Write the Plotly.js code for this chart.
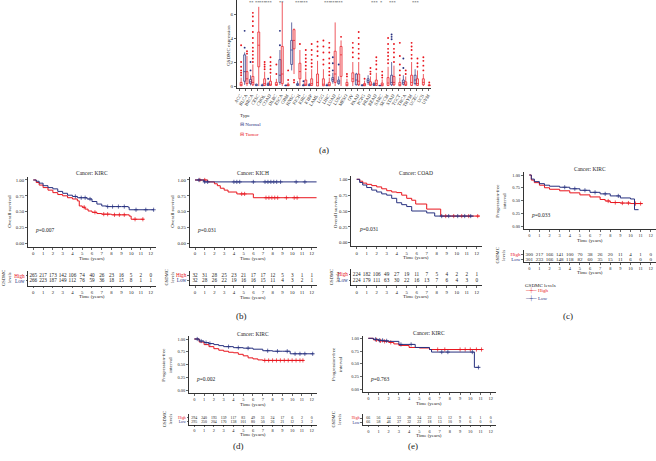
<!DOCTYPE html>
<html><head><meta charset="utf-8">
<script src="https://cdn.plot.ly/plotly-3.0.1.min.js"></script>
<style>html,body{margin:0;padding:0;background:#fff}#chart{width:656px;height:461px}</style>
</head><body><div id="chart"></div>
<script>
// ---------------- Panel (a) data ----------------
const CANCERS = ['ACC','BLCA','BRCA','CESC','CHOL','COAD','DLBC','ESCA','GBM','HNSC','KICH','KIRC','KIRP','LAML','LGG','LIHC','LUAD','LUSC','MESO','OV','PAAD','PCPG','PRAD','READ','SARC','SKCM','STAD','TGCT','THCA','THYM','UCEC','UCS','UVM'];
const TUMOR_Q1  = [0.02,0.2,0.1,1.6,0.05,0.05,0.05,0.2,0.02,3.1,0.6,0.05,0.05,0,0.02,0.02,0.3,0.8,0.02,0.36,0.1,0.02,0.05,0.05,0.02,0.05,0.1,0.02,0.05,0.05,0.05,0.1,0.02];
const TUMOR_MED = [0.08,0.6,0.3,3.4,0.2,0.15,0.1,1.0,0.05,3.8,1.2,0.15,0.2,0.3,0.15,0.1,1.0,2.6,0.1,0.6,0.4,0.08,0.15,0.2,0.08,0.25,0.3,0.1,0.15,0.3,0.2,0.3,0.05];
const TUMOR_Q3  = [0.3,1.2,0.8,4.5,0.6,0.4,0.3,3.3,0.15,4.7,1.9,0.5,0.6,1.0,0.6,0.3,2.9,3.3,0.3,1.1,1.0,0.2,0.35,0.5,0.25,0.7,0.8,0.3,0.35,0.9,0.6,0.6,0.1];
const TUMOR_LOW = [0,0,0,0,0,0,0,0,0,1.0,0,0,0,0,0,0,0,0,0,0,0,0,0,0,0,0,0,0,0,0,0,0,0];
const TUMOR_UP  = [0.7,2.5,1.8,6.6,1.2,0.9,0.6,7.0,0.3,4.8,3.0,1.2,1.4,2.1,1.4,0.7,5.3,3.8,0.6,2.0,2.0,0.45,0.8,1.1,0.55,1.6,1.7,0.7,0.8,2.0,1.3,1.0,0.2];
const TUMOR_OUT = [[0.9,1.1,1.3,1.6,2.0,3.4],[2.7,2.9],[2.0,2.3,2.6,2.9,3.2,3.6,4.0,4.5,5.0,5.4,5.8,6.1],[],[1.4,1.6,1.8,2.0],[1.1,1.4,1.7,2.0,2.4],[1.0,1.8],[],[0.5,1.3],[0.3,0.5],[3.5],[1.4,1.7,2.0,2.3,2.6,3.0],[1.6,1.9,2.2,2.6,3.0,3.5],[2.5,2.9,3.3,3.7],[1.8,2.2,2.8,3.3,3.8],[0.9,1.2,1.5,1.9,2.3,2.8,3.2,3.6],[],[4.1],[0.8,1.0],[2.4,2.8,3.2,3.6],[2.3,2.7,3.1,3.5,4.0,4.5],[0.6],[1.0,1.2,1.5],[1.4,1.8,2.1,2.4],[0.7,0.9,1.2],[1.9,2.2,2.5,2.8,3.1,3.5,4.0],[2.0,2.4,2.8,3.1,3.5],[0.9,1.3,1.8,2.5,3.6],[1.0,1.3],[2.3,2.6,3.0,3.3,3.6],[1.6,1.9,2.3],[1.3,1.7,2.1,2.4],[0.3]];
const NORMAL_Q1  = [null,0.4,0.2,0.03,0.02,0.05,null,0.3,0.02,1.8,0.05,0.02,0.03,null,null,0.02,0.4,0.2,null,null,0.1,0.02,0.3,0.05,0.02,null,0.1,null,0.15,null,0.2,null,null];
const NORMAL_MED = [null,1.2,0.35,0.08,0.05,0.1,null,0.9,0.04,3.0,0.1,0.05,0.06,null,null,0.05,0.55,0.35,null,null,0.5,0.05,0.45,0.1,0.04,null,0.3,null,0.3,null,0.5,null,null];
const NORMAL_Q3  = [null,2.6,0.55,0.15,0.1,0.2,null,2.2,0.08,3.8,0.2,0.1,0.12,null,null,0.1,0.7,0.5,null,null,1.0,0.1,0.6,0.2,0.06,null,0.9,null,0.5,null,0.9,null,null];
const NORMAL_LOW = [null,0.1,0.05,0,0,0,null,0.1,0,1.3,0,0,0,null,null,0,0.2,0.1,null,null,0.05,0,0.1,0,0.02,null,0,null,0.05,null,0.05,null,null];
const NORMAL_UP  = [null,2.8,0.9,0.2,0.2,0.35,null,3.0,0.12,5.3,0.4,0.2,0.25,null,null,0.2,1.1,0.8,null,null,1.1,0.15,0.9,0.35,0.08,null,2.0,null,0.9,null,1.4,null,null];
const NORMAL_OUT = [[],[3.2,4.6],[1.3,2.0],[],[],[0.6],[],[3.4,4.6],[],[],[],[0.4],[],[],[],[],[1.3,1.9,2.4],[1.8],[],[],[],[],[],[],[],[],[3.9,4.1,4.3],[],[1.5,2.3],[],[],[],[]];
const SIGNIF = ['','','**','**','***','***','','**','','','***','***','','','','***','***','***','','','','','','***','*','','***','','','','***','',''];
const EXPR_TICKS = [0,2,4,6];

// ---------------- KM data ----------------
const YEARS = [0,1,2,3,4,5,6,7,8,9,10,11,12];
// (b) KIRC overall survival
const P1_HI_T = [0,0.3,0.6,1,1.5,2,2.5,3,3.5,4,4.5,4.7,5.0,5.3,5.6,6,6.5,7,8,9,9.8,10,11.3];
const P1_HI_S = [1,0.96,0.92,0.88,0.84,0.80,0.77,0.75,0.72,0.70,0.67,0.59,0.57,0.54,0.51,0.49,0.47,0.46,0.45,0.45,0.43,0.38,0.38];
const P1_LO_T = [0,0.3,0.6,1,1.5,2,2.5,3,3.5,4,4.5,5,5.5,6,6.5,7,7.5,8,9,9.7,9.8,12.35];
const P1_LO_S = [1,0.98,0.95,0.91,0.88,0.86,0.82,0.79,0.76,0.74,0.72,0.72,0.70,0.66,0.62,0.59,0.58,0.58,0.58,0.57,0.53,0.53];
const P1_HI_CENS = [5.2,6.3,7.2,7.6,8.3,8.8,9.3,10.4,11.2];
const P1_LO_CENS = [4.3,4.9,5.3,5.8,7.6,8.1,8.7,9.3,10.5,11.5,12.3];
const P1_HI_RISK = [265,217,173,142,106,74,40,26,23,16,5,2,0];
const P1_LO_RISK = [266,223,187,149,112,76,59,36,18,15,8,1,1];
// (b) KICH overall survival
const P2_HI_T = [0,1.3,2,2.3,2.6,3,3.4,4.3,6,12.7];
const P2_HI_S = [1,0.97,0.94,0.91,0.87,0.84,0.81,0.78,0.72,0.72];
const P2_LO_T = [0,0.9,12.8];
const P2_LO_S = [1,0.97,0.97];
const P2_HI_CENS = [0.5,1.0,4.8,5.1,7.3,7.6,7.9,8.2,8.5,9.4,10.2,10.5,12.7];
const P2_LO_CENS = [0.4,1.0,1.3,4.0,4.3,4.6,6.0,7.2,7.5,7.8,8.1,8.4,8.8,10.4,11.3,12.8];
const P2_HI_RISK = [32,31,28,25,23,21,17,17,12,5,3,1,1];
const P2_LO_RISK = [32,28,26,22,19,16,16,15,11,4,3,2,1];
// (b) COAD overall survival
const P3_HI_T = [0,0.3,0.6,1,1.5,2,2.5,3,3.5,4,4.5,5,5.5,5.9,7,8.4,12.3];
const P3_HI_S = [1,0.97,0.94,0.92,0.90,0.88,0.85,0.82,0.80,0.79,0.75,0.70,0.67,0.61,0.53,0.42,0.42];
const P3_LO_T = [0,0.3,0.6,1,1.5,2,2.5,3,3.5,4,4.5,5,5.5,7,7.8,11.7];
const P3_LO_S = [1,0.95,0.91,0.87,0.83,0.80,0.77,0.75,0.70,0.63,0.60,0.57,0.50,0.47,0.42,0.42];
const P3_HI_CENS = [8.9,9.7,10.5,11.2,12.1];
const P3_LO_CENS = [8.5,9.2,10.1,10.8,11.4];
const P3_HI_RISK = [224,182,106,49,27,19,11,7,5,4,2,2,1];
const P3_LO_RISK = [224,179,111,63,30,22,16,13,7,6,4,3,0];
// (c) KIRC progression-free interval
const P4_HI_T = [0,0.2,0.5,1,1.5,2,3,4,5,6,7,7.5,8,9,10,11.2];
const P4_HI_S = [1,0.9,0.85,0.80,0.75,0.72,0.69,0.65,0.61,0.57,0.52,0.49,0.46,0.45,0.44,0.44];
const P4_LO_T = [0,0.2,0.5,1,1.5,2,3,4,5,6,7,8,9,10,10.4,10.8];
const P4_LO_S = [1,0.92,0.87,0.83,0.80,0.78,0.76,0.73,0.70,0.66,0.63,0.59,0.55,0.53,0.32,0.32];
const P4_HI_CENS = [7.8,8.5,9.2,9.8,10.5,11.0];
const P4_LO_CENS = [3.5,4.5,5.5,6.5,7.5,8.8];
const P4_HI_RISK = [300,217,166,141,100,70,38,26,20,11,4,1,0];
const P4_LO_RISK = [301,233,166,148,118,82,60,35,15,11,6,0,0];
// (d) KIRC progression-free interval
const P5_HI_T = [0,0.5,1,1.5,2,2.5,3,3.5,4,4.5,5,5.5,6,6.5,7,11.2];
const P5_HI_S = [1,0.94,0.89,0.85,0.81,0.78,0.76,0.74,0.73,0.70,0.67,0.63,0.61,0.59,0.58,0.58];
const P5_LO_T = [0,0.5,1,1.5,2,2.5,3,4,5,6,7,8,9,9.8,12.2];
const P5_LO_S = [1,0.96,0.93,0.91,0.89,0.87,0.85,0.83,0.82,0.80,0.77,0.76,0.76,0.71,0.71];
const P5_HI_CENS = [7.2,7.6,8,8.4,8.8,9.2,9.6,10,10.4,10.8,11.1];
const P5_LO_CENS = [0.3,0.7,1.2,1.6,3.5,4.5,5.5,7.5,8.5,9.5,10.3,10.8,11.3,12.1];
const P5_HI_RISK = [294,240,193,159,117,83,49,31,24,17,6,2,0];
const P5_LO_RISK = [295,250,204,170,138,101,80,50,26,21,12,3,2];
// (e) KIRC progression-free interval
const P6_HI_T = [0,0.5,1,1.5,2,2.5,3,4,5,6,11.2];
const P6_HI_S = [1,0.97,0.95,0.94,0.92,0.89,0.86,0.82,0.81,0.78,0.78];
const P6_LO_T = [0,0.5,1,1.5,2,3,4.6,6,6.2,10.4,10.9];
const P6_LO_S = [1,0.98,0.96,0.95,0.94,0.88,0.82,0.78,0.73,0.43,0.43];
const P6_HI_CENS = [0.8,1.2,1.6,2.2,6.8,7.5,9.0,9.5,10,10.6,11.1];
const P6_LO_CENS = [0.7,1.1,1.4,1.8,3.2,4.2,7.2,7.8,10.2,10.8];
const P6_HI_RISK = [66,56,44,33,28,24,22,15,12,9,6,1,0];
const P6_LO_RISK = [66,58,46,37,32,22,18,13,10,9,6,0,0];

const KM_TITLES = ['Cancer: KIRC','Cancer: KICH','Cancer: COAD','Cancer: KIRC','Cancer: KIRC','Cancer: KIRC'];
const KM_YTITLES = ['Overall survival','Overall survival','Overall survival','Progression-free<br>interval','Progression-free<br>interval','Progression-free<br>interval'];
const KM_PVALUES = ['0.007','0.031','0.031','0.033','0.002','0.763'];
const SURV_TICKS = [0,0.25,0.5,0.75,1];

// ---------------- layout helpers ----------------
const W = 656, H = 461;
const px = v => v / W;
const py = v => 1 - v / H;
const FONT = '"Liberation Serif", "Times New Roman", serif';
const RED = '#E8141C', BLUE = '#27307F', INK = '#222';

const data = [];
const layout = {
  width: W, height: H, margin: {l:0, r:0, t:0, b:0},
  paper_bgcolor: '#fff', plot_bgcolor: 'rgba(0,0,0,0)',
  showlegend: false, font: {family: FONT, size: 5, color: INK},
  annotations: [], hovermode: false
};
function axis(domain, range, extra) {
  return Object.assign({
    domain: domain, range: range, showline: true, linecolor: '#000', linewidth: 0.8,
    ticks: 'outside', ticklen: 2, tickwidth: 0.6, tickcolor: '#000', zeroline: false,
    showgrid: false, tickfont: {size: 5, family: FONT, color: INK}, fixedrange: true
  }, extra);
}
function note(text, x, y, opts) {
  layout.annotations.push(Object.assign({
    text: text, x: x, y: y, xref: 'paper', yref: 'paper', showarrow: false,
    xanchor: 'center', yanchor: 'middle', font: {family: FONT, size: 5, color: INK}
  }, opts || {}));
}

// ---------------- Panel (a) ----------------
const OFF = 0.2, BW = 0.34;
const idx = CANCERS.map((_, i) => i);
layout.xaxis = axis([px(236.7), px(431)], [-0.55, 32.5], {
  anchor: 'y', tickvals: idx, ticktext: CANCERS, tickangle: -58, tickfont: {size: 4.6, family: FONT, color: INK}
});
layout.yaxis = axis([py(88.3), 1], [-0.19, 7.17], {anchor: 'x', tickvals: EXPR_TICKS});
const nIdx = idx.filter(i => NORMAL_Q1[i] !== null);
data.push({
  type: 'box', orientation: 'v', xaxis: 'x', yaxis: 'y',
  x: nIdx.map(i => i - OFF), q1: nIdx.map(i => NORMAL_Q1[i]), median: nIdx.map(i => NORMAL_MED[i]),
  q3: nIdx.map(i => NORMAL_Q3[i]), lowerfence: nIdx.map(i => NORMAL_LOW[i]), upperfence: nIdx.map(i => NORMAL_UP[i]),
  width: BW, line: {color: BLUE, width: 0.7}, fillcolor: 'rgba(39,48,127,0.12)', boxpoints: false, whiskerwidth: 0
});
data.push({
  type: 'box', orientation: 'v', xaxis: 'x', yaxis: 'y',
  x: idx.map(i => i + OFF), q1: TUMOR_Q1, median: TUMOR_MED, q3: TUMOR_Q3,
  lowerfence: TUMOR_LOW, upperfence: TUMOR_UP,
  width: BW, line: {color: RED, width: 0.7}, fillcolor: 'rgba(232,20,28,0.15)', boxpoints: false, whiskerwidth: 0
});
function outliers(list, off, color) {
  const xs = [], ys = [];
  list.forEach((arr, i) => arr.forEach(v => { xs.push(i + off); ys.push(v); }));
  data.push({type: 'scatter', mode: 'markers', xaxis: 'x', yaxis: 'y', x: xs, y: ys,
    marker: {color: color, size: 1.9, line: {width: 0}}, cliponaxis: false});
}
outliers(NORMAL_OUT, -OFF, BLUE);
outliers(TUMOR_OUT, OFF, RED);
SIGNIF.forEach((s, i) => {
  if (s) layout.annotations.push({text: s, x: i, y: 6.95, xref: 'x', yref: 'y', showarrow: false,
    font: {family: FONT, size: 4.5, color: '#333'}, yanchor: 'middle'});
});
note('GSDMC expression', px(228), py(45), {textangle: -90});
note('Type', px(238), py(115), {xanchor: 'left'});
note('<span style="color:' + BLUE + '">⊟</span> <span style="color:' + BLUE + '">Normal</span>', px(237.5), py(124.3), {xanchor: 'left'});
note('<span style="color:' + RED + '">⊟</span> <span style="color:' + RED + '">Tumor</span>', px(237.5), py(134.3), {xanchor: 'left'});

// ---------------- KM panels ----------------
// rax: risk-table axis line (px), tg: gap from that line to its "Time (years)" label
const KM_GEOM = [
  {x0: 33.3, x12: 150.7, y1: 180, y0: 243.3, hi: 275.7, lo: 280.7, rax: 285.7, tg: 11.2, title: 173, ytx: 10, rtx: 6.5, fs: 5.2, tfs: 4.8},
  {x0: 195, x12: 311.7, y1: 180, y0: 243.3, hi: 275.3, lo: 280.5, rax: 285.5, tg: 11.5, title: 173, ytx: 173, rtx: 169.5, fs: 5.2, tfs: 4.8},
  {x0: 356.7, x12: 476.7, y1: 179.3, y0: 242.7, hi: 274.3, lo: 280.3, rax: 285.5, tg: 11.2, title: 173, ytx: 335, rtx: 334, fs: 5.2, tfs: 4.8},
  {x0: 529.3, x12: 650.7, y1: 175, y0: 226, hi: 254.3, lo: 259.3, rax: 262.4, tg: 10.2, title: 169, ytx: 501, rtx: 500.5, fs: 5, tfs: 4.4},
  {x0: 194.3, x12: 311.7, y1: 339, y0: 390, hi: 417.8, lo: 421.9, rax: 424.6, tg: 10.0, title: 334, ytx: 167, rtx: 167, fs: 3.9, tfs: 4.4},
  {x0: 368.3, x12: 490.7, y1: 338.3, y0: 389.3, hi: 418.0, lo: 422.2, rax: 425.0, tg: 10.2, title: 332.7, ytx: 337, rtx: 337, fs: 3.9, tfs: 4.4}
];
const KM_DATA = [
  [P1_HI_T, P1_HI_S, P1_LO_T, P1_LO_S, P1_HI_CENS, P1_LO_CENS, P1_HI_RISK, P1_LO_RISK],
  [P2_HI_T, P2_HI_S, P2_LO_T, P2_LO_S, P2_HI_CENS, P2_LO_CENS, P2_HI_RISK, P2_LO_RISK],
  [P3_HI_T, P3_HI_S, P3_LO_T, P3_LO_S, P3_HI_CENS, P3_LO_CENS, P3_HI_RISK, P3_LO_RISK],
  [P4_HI_T, P4_HI_S, P4_LO_T, P4_LO_S, P4_HI_CENS, P4_LO_CENS, P4_HI_RISK, P4_LO_RISK],
  [P5_HI_T, P5_HI_S, P5_LO_T, P5_LO_S, P5_HI_CENS, P5_LO_CENS, P5_HI_RISK, P5_LO_RISK],
  [P6_HI_T, P6_HI_S, P6_LO_T, P6_LO_S, P6_HI_CENS, P6_LO_CENS, P6_HI_RISK, P6_LO_RISK]
];
function stepAt(T, S, t) {
  let s = S[0];
  for (let i = 0; i < T.length; i++) { if (T[i] <= t) s = S[i]; else break; }
  return s;
}
KM_GEOM.forEach((g, k) => {
  const [hiT, hiS, loT, loS, hiC, loC, hiR, loR] = KM_DATA[k];
  const ppy = (g.x12 - g.x0) / 12;
  const xl = g.x0 - 0.55 * ppy, xr = g.x0 + 12.5 * ppy;
  const pu = g.y0 - g.y1;
  const yb = g.y0 + 0.055 * pu, yt = g.y1 - 0.05 * pu;
  const sp = g.lo - g.hi;
  const rb = g.rax, rt = g.hi - 0.9 * sp;
  const r0 = 1 - (g.rax - g.lo) / sp;
  const mi = k + 2, ri = k + 8;
  const xm = 'x' + mi, ym = 'y' + mi, xr_ = 'x' + ri, yr_ = 'y' + ri;
  const tf = {size: g.tfs, family: FONT, color: INK};
  layout['xaxis' + mi] = axis([px(xl), px(xr)], [-0.55, 12.5], {anchor: ym, tickvals: YEARS, tickfont: tf});
  layout['yaxis' + mi] = axis([py(yb), py(yt)], [-0.055, 1.05], {anchor: xm, tickvals: SURV_TICKS, tickformat: '.2f', tickfont: tf});
  layout['xaxis' + ri] = axis([px(xl), px(xr)], [-0.55, 12.5], {anchor: yr_, tickvals: YEARS, ticklen: 1.5, tickfont: tf});
  layout['yaxis' + ri] = axis([py(rb), py(rt)], [r0, 2.9], {anchor: xr_, tickvals: [1, 2], ticklen: 1.5,
    tickfont: {size: g.fs, family: FONT, color: INK},
    ticktext: ['<span style="color:' + BLUE + '">Low</span>', '<span style="color:' + RED + '">High</span>']});
  // curves
  [[hiT, hiS, hiC, RED], [loT, loS, loC, BLUE]].forEach(([T, S, C, col]) => {
    data.push({type: 'scatter', mode: 'lines', xaxis: xm, yaxis: ym, x: T, y: S,
      line: {color: col, width: 1, shape: 'hv'}, cliponaxis: false});
    data.push({type: 'scatter', mode: 'markers', xaxis: xm, yaxis: ym, x: C, y: C.map(t => stepAt(T, S, t)),
      marker: {symbol: 'cross-thin', size: 3, line: {color: col, width: 0.7}}, cliponaxis: false});
  });
  // risk table numbers
  data.push({type: 'scatter', mode: 'text', xaxis: xr_, yaxis: yr_, x: YEARS, y: YEARS.map(() => 2),
    text: hiR.map(String), textfont: {family: FONT, size: g.fs, color: INK}, cliponaxis: false});
  data.push({type: 'scatter', mode: 'text', xaxis: xr_, yaxis: yr_, x: YEARS, y: YEARS.map(() => 1),
    text: loR.map(String), textfont: {family: FONT, size: g.fs, color: INK}, cliponaxis: false});
  // texts
  const cx = px((xl + xr) / 2);
  note(KM_TITLES[k], cx, py(g.title), {font: {family: FONT, size: 5.5, color: INK}});
  note('Time (years)', cx, py(yb + 11.8));
  note('Time (years)', cx, py(rb + g.tg));
  note(KM_YTITLES[k], px(g.ytx), py((yb + yt) / 2), {textangle: -90});
  note('GSDMC<br>levels', px(g.rtx), py((rb + rt) / 2), {textangle: -90, font: {family: FONT, size: 4.6, color: INK}});
  layout.annotations.push({text: '<i>p</i>=' + KM_PVALUES[k], x: 0, y: 0.21, xref: xm, yref: ym,
    showarrow: false, xanchor: 'left', yanchor: 'middle', font: {family: FONT, size: 5.5, color: INK}});
});

// legend of (c)
note('GSDMC levels', px(523), py(285), {xanchor: 'left'});
note('<span style="color:' + RED + '">─┼─</span> <span style="color:' + RED + '">High</span>', px(523), py(290.5), {xanchor: 'left'});
note('<span style="color:' + BLUE + '">─┼─</span> <span style="color:' + BLUE + '">Low</span>', px(523), py(298.5), {xanchor: 'left'});

// panel labels
const LBL = {size: 9, family: FONT, color: INK};
note('(a)', px(324), py(150), {font: LBL});
note('(b)', px(241), py(316), {font: LBL});
note('(c)', px(568), py(316), {font: LBL});
note('(d)', px(238), py(446), {font: LBL});
note('(e)', px(413), py(446), {font: LBL});

Plotly.newPlot('chart', data, layout, {staticPlot: true, displayModeBar: false});
</script></body></html>
